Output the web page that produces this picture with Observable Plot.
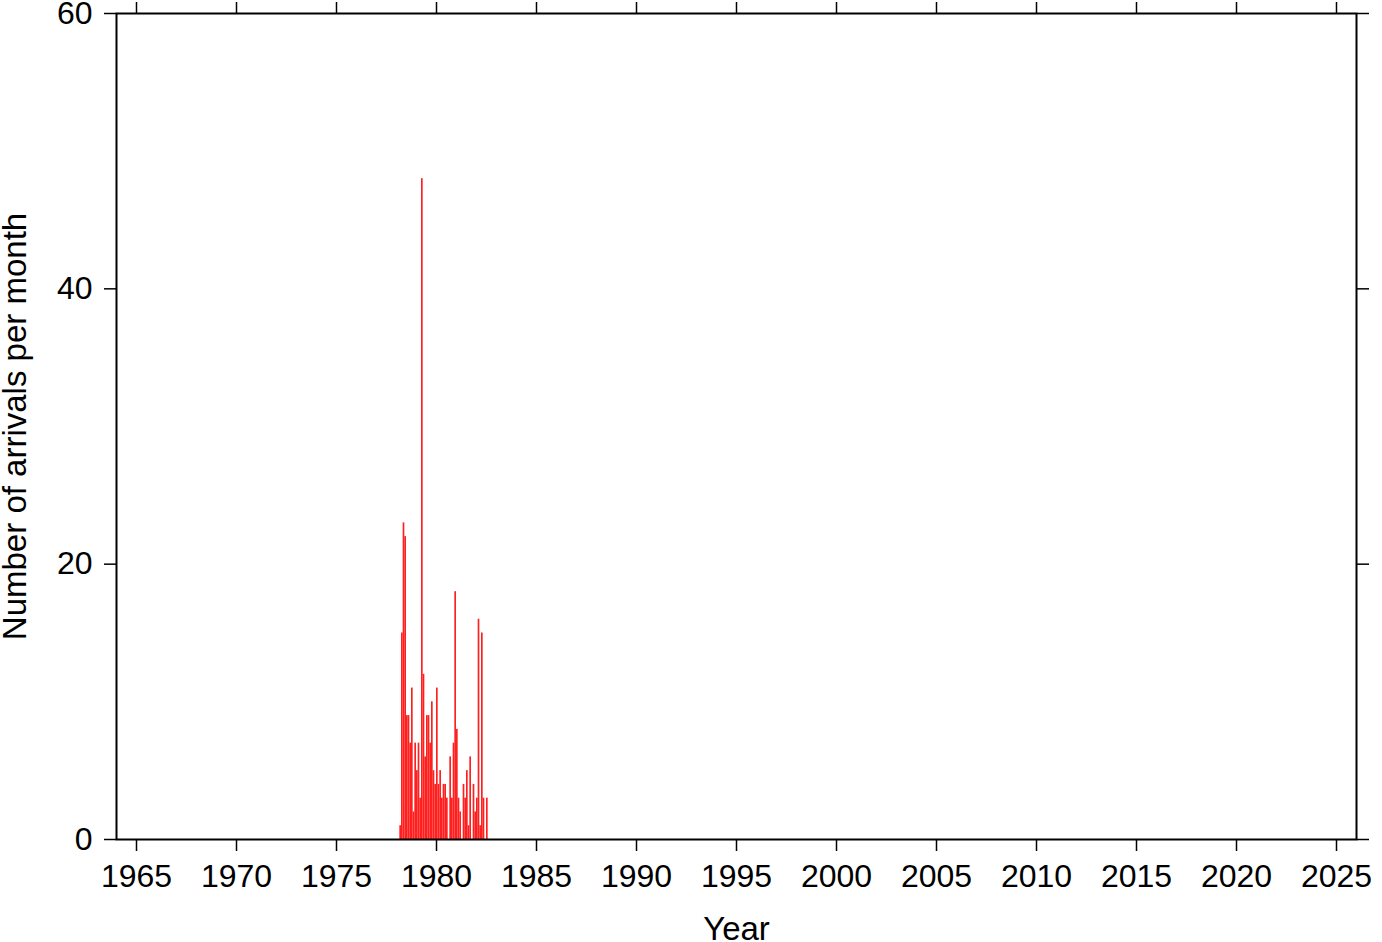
<!DOCTYPE html>
<html>
<head>
<meta charset="utf-8">
<script src="https://cdn.jsdelivr.net/npm/d3@7"></script>
<script src="https://cdn.jsdelivr.net/npm/@observablehq/plot@0.6"></script>
<style>
  html, body { margin: 0; padding: 0; background: #fff; }
  #chart { width: 1382px; height: 942px; }
  #chart svg { overflow: visible; }
</style>
</head>
<body>
<div id="chart"></div>
<script>
// Monthly arrival counts, starting March 1978
const startYear = 1978;
const startMonth = 2; // 0 = January
const counts = [1,15,23,22,9,9,7,11,2,7,5,7,3,48,12,6,9,9,7,10,5,4,11,4,5,3,4,4,3,0,6,3,7,18,8,3,2,0,4,3,5,1,6,0,4,2,3,16,1,15,3,0,3];
const xTicks = [1965,1970,1975,1980,1985,1990,1995,2000,2005,2010,2015,2020,2025];
const yTicks = [0,20,40,60];
const xLabel = "Year";
const yLabel = "Number of arrivals per month";

const data = counts.map((v, i) => {
  const t = startYear + (startMonth + i) / 12;
  return {x1: t, x2: t + 1 / 12, v};
}).filter(d => d.v > 0);

const font = "'Liberation Sans', Arial, Helvetica, sans-serif";

const chart = Plot.plot({
  width: 1382,
  height: 942,
  marginLeft: 116,
  marginRight: 26,
  marginTop: 13,
  marginBottom: 103,
  style: {fontFamily: font, fontSize: "32px", color: "#000", background: "#fff", overflow: "visible"},
  x: {domain: [1964, 2026], label: null},
  y: {domain: [0, 60], label: null},
  marks: [
    Plot.rectY(data, {x1: "x1", x2: "x2", y1: 0, y2: "v", fill: "#ff1f1f", inset: 0}),
    Plot.axisX({anchor: "bottom", ticks: xTicks, tickFormat: d => String(d), tickSize: 12, tickPadding: 13, strokeWidth: 1.5, fontSize: 32, label: null}),
    Plot.axisX({anchor: "top", ticks: xTicks, tickFormat: () => "", tickSize: 12, strokeWidth: 1.5, label: null}),
    Plot.axisY({anchor: "left", ticks: yTicks, tickFormat: d => String(d), tickSize: 12, tickPadding: 12, strokeWidth: 1.5, fontSize: 32, label: null}),
    Plot.axisY({anchor: "right", ticks: yTicks, tickFormat: () => "", tickSize: 12, strokeWidth: 1.5, label: null}),
    Plot.frame({stroke: "#000", strokeWidth: 2}),
    Plot.text([xLabel], {frameAnchor: "bottom", dy: 90, fontSize: 33, fill: "#000", textAnchor: "middle", lineAnchor: "middle"}),
    Plot.text([yLabel], {frameAnchor: "left", dx: -101, rotate: -90, fontSize: 33, fill: "#000", textAnchor: "middle"})
  ]
});
document.getElementById("chart").appendChild(chart);
</script>
</body>
</html>
